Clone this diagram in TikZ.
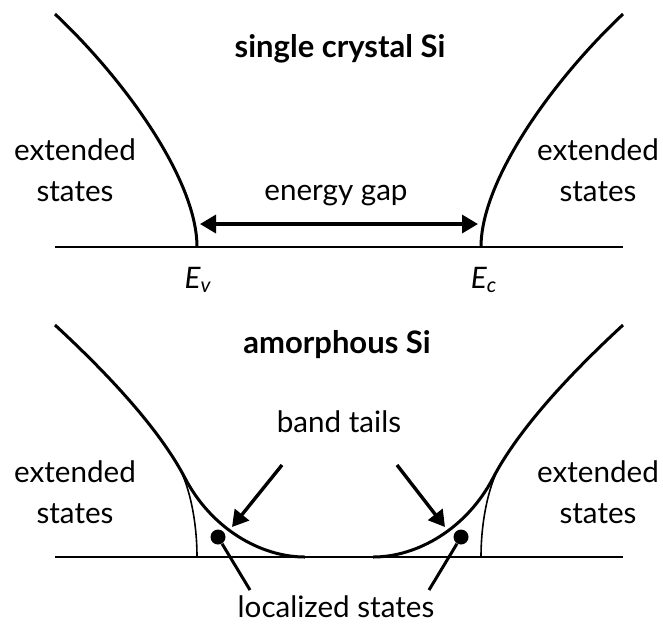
\documentclass[tikz,border=0pt]{standalone}
\usepackage{fontspec}
\setmainfont{Lato}
\usetikzlibrary{arrows.meta}
\tikzset{
  band/.style={line width=1.5pt},
  tailline/.style={line width=0.8pt},
  axis/.style={line width=1pt},
  pointer/.style={line width=1.7pt,-{Triangle[length=8pt,width=9pt]}},
  stem/.style={line width=1.5pt},
  txt/.style={font=\fontsize{14.8}{20.5}\selectfont,align=center,inner sep=0pt},
  heading/.style={font=\fontsize{15.5}{18}\selectfont\bfseries,inner sep=0pt},
  statedot/.style={circle,fill,inner sep=0pt,minimum size=7.5pt},
}
\begin{document}
\begin{tikzpicture}[x=0.5pt,y=-0.5pt]
\useasboundingbox (0,0) rectangle (663,623);
% single crystal
\node[heading,anchor=base] (sc) at (340,57) {single crystal Si};
\coordinate (ev) at (197,247);
\coordinate (ec) at (481,247);
\draw[axis] (55,247) -- (623,247);
\draw[band] (ev) .. controls (197,180) and (125,80) .. (55,14);
\draw[band] (ec) .. controls (481,180) and (553,80) .. (623,14);
\node[txt] (xsl) at (75,170) {extended\\states};
\node[txt] (xsr) at (598,170) {extended\\states};
\coordinate (gl) at (200,224);
\coordinate (gr) at (478,224);
\draw[pointer,{Triangle[length=8pt,width=9pt]}-{Triangle[length=8pt,width=9pt]}] (gl) -- (gr);
\node[txt,anchor=base] (gap) at (336,200) {energy gap};
\node[txt,anchor=base] (evl) at (198,288) {\itshape E\textsubscript{v}};
\node[txt,anchor=base] (ecl) at (484,288) {\itshape E\textsubscript{c}};
% amorphous
\node[heading,anchor=base] (am) at (337,353) {amorphous Si};
\draw[axis] (55,557) -- (623,557);
\draw[band] (55,325) .. controls (120,385) and (163,436) .. (185,478)
            .. controls (211,528) and (260,557) .. (305,557);
\draw[band] (623,325) .. controls (558,385) and (515,436) .. (493,478)
            .. controls (467,528) and (418,557) .. (373,557);
\draw[tailline] (175,460) .. controls (189,482) and (197,520) .. (197,557);
\draw[tailline] (503,460) .. controls (489,482) and (481,520) .. (481,557);
\node[txt] (xal) at (75,492) {extended\\states};
\node[txt] (xar) at (598,492) {extended\\states};
\node[txt,anchor=base] (bt) at (339,432) {band tails};
\coordinate (btl) at (282,465);
\coordinate (btr) at (397,465);
\coordinate (tl) at (232,527);
\coordinate (tr) at (445,527);
\draw[pointer] (btl) -- (tl);
\draw[pointer] (btr) -- (tr);
\node[statedot] (dl) at (218,537) {};
\node[statedot] (dr) at (461,537) {};
\node[txt,anchor=base] (loc) at (336,617) {localized states};
\coordinate (ll) at (250,590);
\coordinate (lr) at (429,590);
\draw[stem] (dl) -- (ll);
\draw[stem] (dr) -- (lr);
\end{tikzpicture}
\end{document}
